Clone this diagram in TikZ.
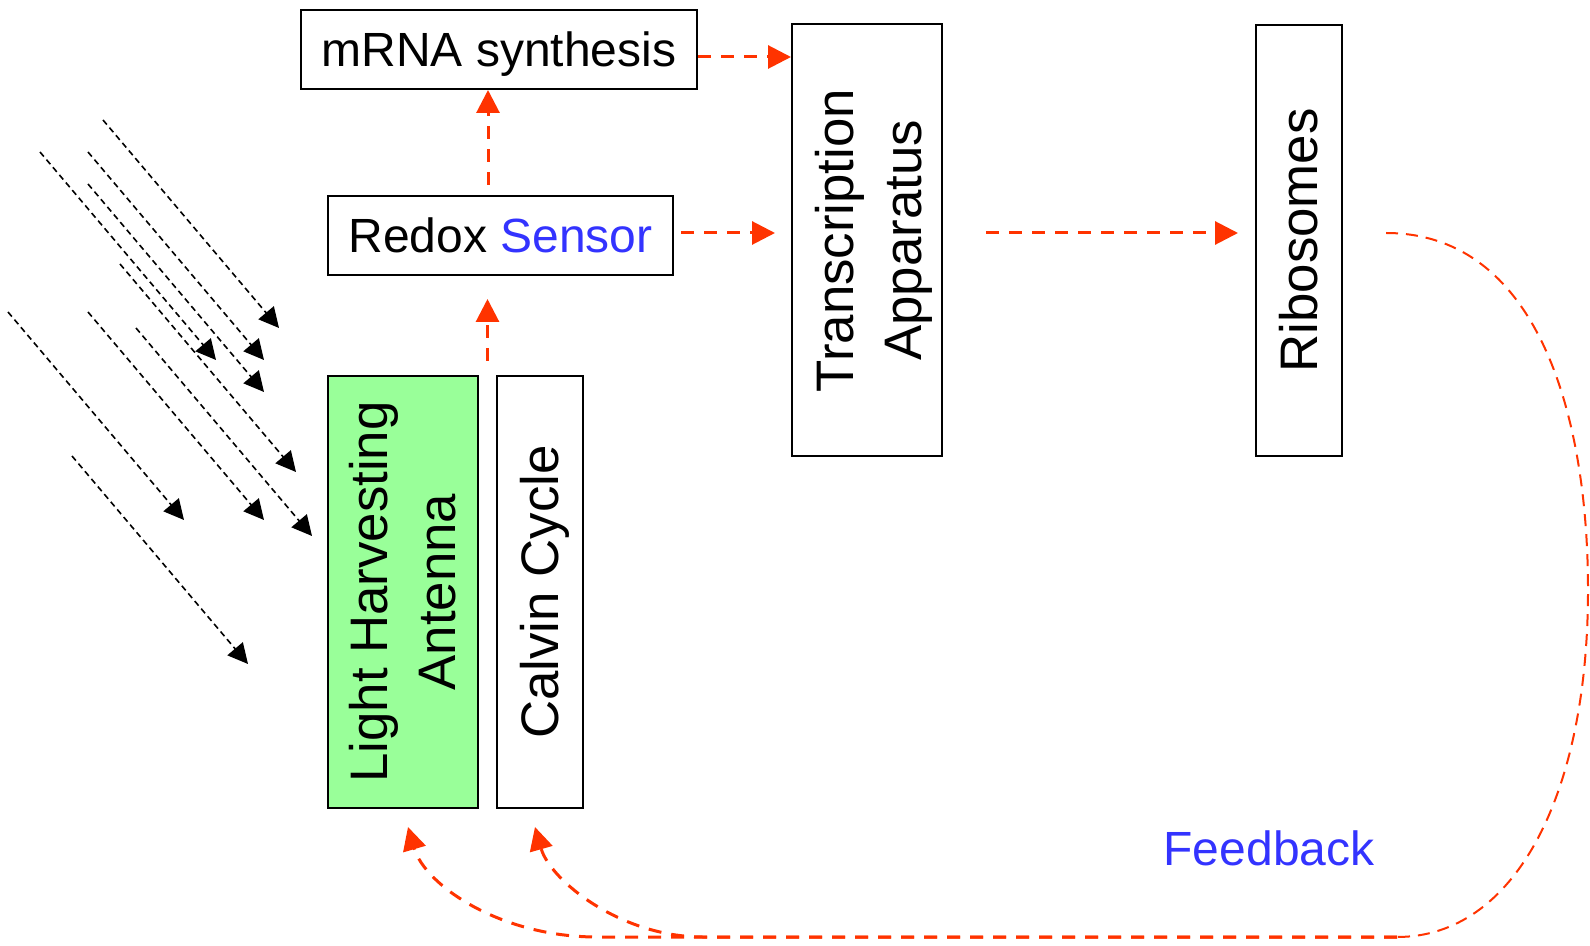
\documentclass[tikz,border=0pt]{standalone}
\usepackage{fontspec}
\setmainfont{Liberation Sans}
\usetikzlibrary{arrows.meta,calc}
\definecolor{fbred}{HTML}{FF3300}
\definecolor{labelblue}{HTML}{3333FF}
\definecolor{antgreen}{HTML}{99FF99}
% upright label turned to read bottom-to-top, nudged across the box by #1
\newcommand{\uplabel}[2]{\rotatebox{90}{\raisebox{#1}[\height][\depth]{#2}}}

\begin{document}
\begin{tikzpicture}[x=0.5pt,y=-0.5pt,
  box/.style={draw=black, line width=1pt, inner sep=0pt, font=\fontsize{24}{32}\selectfont},
  flatbox/.style={box, text height=17.2pt, text depth=0pt},
  tallbox/.style={box, font=\fontsize{26.4}{34}\selectfont},
  lbl/.style={inner sep=0pt, font=\fontsize{24}{32}\selectfont},
  redarrow/.style={draw=fbred, line width=1.5pt, dash pattern=on 6.5pt off 5pt,
                   -{Triangle[length=11.5pt,width=11.5pt]}},
  ray/.style={draw=black, line width=0.8pt, dash pattern=on 3pt off 2pt,
              -{Triangle[length=10pt,width=10pt]}},
  loopline/.style={draw=fbred, line width=1pt, dash pattern=on 6pt off 4pt}]
\useasboundingbox (0,0) rectangle (1590,946);

% boxes
\node[flatbox, minimum width=198pt, minimum height=39.5pt] (mrna) at (499,49.5) {mRNA synthesis};
\node[flatbox, minimum width=172.5pt, minimum height=39.5pt] (redox) at (500.5,235.5)
  {Redox \textcolor{labelblue}{Sensor}};
\node[tallbox, minimum width=75pt, minimum height=216pt] (trans) at (867,240.5)
  {\uplabel{-3.2pt}{\begin{tabular}{@{}c@{}}Transcription\\Apparatus\end{tabular}}};
\node[tallbox, minimum width=43pt, minimum height=215.5pt] (ribo) at (1299,240.5)
  {\uplabel{0pt}{Ribosomes}};
\node[tallbox, fill=antgreen, minimum width=75pt, minimum height=216pt] (ant) at (403,592)
  {\uplabel{-2.6pt}{\begin{tabular}{@{}c@{}}Light Harvesting\\Antenna\end{tabular}}};
\node[tallbox, minimum width=43pt, minimum height=216pt] (calvin) at (540,592)
  {\uplabel{-2.6pt}{Calvin Cycle}};
\node[lbl, text=labelblue] (fb) at (1269,848) {Feedback};

% incoming light
\foreach \sx/\sy in {103/120, 40/152, 88/152, 88/184, 120/264, 8/312, 88/312, 136/328, 72/456}
  \draw[ray] (\sx,\sy) -- ++(176,208);

% signalling chain
\coordinate (gap) at ($(ant.north east)!0.5!(calvin.north west)$);
\draw[redarrow] ([yshift=7pt]gap) -- ([yshift=-11.5pt]gap |- redox.south);
\draw[redarrow] ([xshift=-6.25pt,yshift=5pt]redox.north) -- ([xshift=-6.25pt]redox.north |- mrna.south);
\draw[redarrow] ([yshift=-3.75pt]mrna.east) -- ([yshift=-3.75pt]mrna.east -| trans.west);
\draw[redarrow] ([xshift=3.5pt,yshift=1.25pt]redox.east) -- ([xshift=-8pt,yshift=1.25pt]redox.east -| trans.west);
\draw[redarrow] ([xshift=21.5pt,yshift=3.75pt]trans.east) -- ([xshift=-8.5pt,yshift=3.75pt]trans.east -| ribo.west);

% feedback loop
\coordinate (loopstart) at ([xshift=21.5pt,yshift=3.75pt]ribo.east);
\coordinate (loopend) at (1397,937);
\coordinate (turnA) at (597,937);
\coordinate (turnB) at (703,937);
\draw[loopline] (loopstart) .. controls (1535,233) and (1588,410) .. (1588,590)
  .. controls (1588,795) and (1515,937) .. (loopend);
\draw[redarrow] (loopend) -- (turnA) .. controls (500,937) and (425,885) .. ([xshift=2.5pt,yshift=-9pt]ant.south);
\draw[redarrow] (loopend) -- (turnB) .. controls (620,937) and (550,880) .. ([xshift=-2.5pt,yshift=-9pt]calvin.south);
\end{tikzpicture}
\end{document}
